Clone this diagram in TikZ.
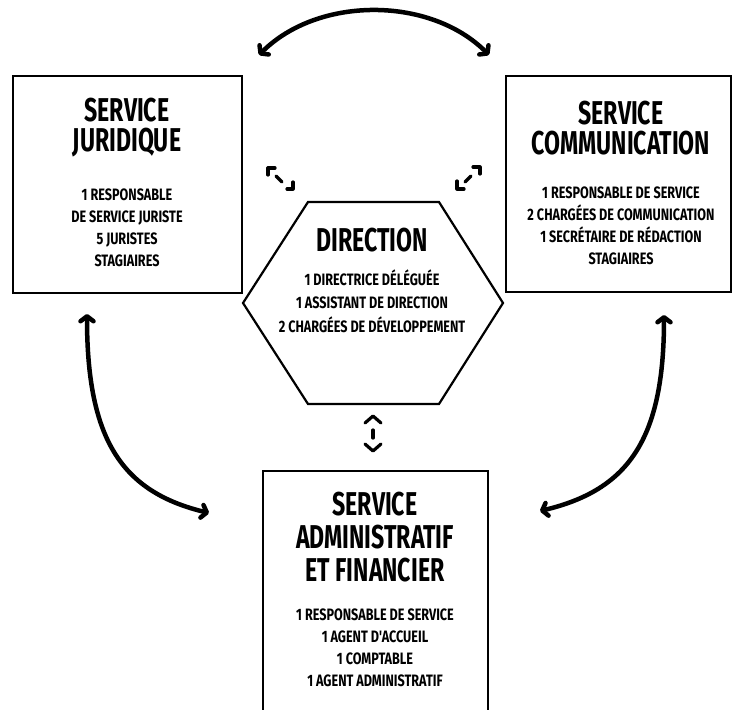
\documentclass[tikz,border=0pt]{standalone}
\usepackage{fontspec}
\setmainfont{Fira Sans}
\newfontfamily\titlefont{Fira Sans}[FakeStretch=0.70]
\newfontfamily\bodyfont{Fira Sans}[FakeStretch=0.765]
\usetikzlibrary{arrows.meta}
\begin{document}
\begin{tikzpicture}[x=1pt,y=-1pt,
  box/.style={draw, line width=2.3pt, inner sep=0pt},
  hexline/.style={line width=2.2pt, line join=miter},
  ttl/.style={font=\titlefont\bfseries\fontsize{33}{30}\selectfont, align=center, inner sep=0pt},
  bdy/.style={font=\bodyfont\bfseries\fontsize{16.5}{22}\selectfont, align=center, inner sep=0pt},
  barb/.tip={Straight Barb[length=5pt,width=13pt,line cap=round,line join=round]},
  bigarrow/.style={line width=4.5pt, line cap=round, barb-barb},
  icon/.style={line width=3.2pt, line cap=round, line join=round}]
\clip (0,0) rectangle (733,709);
\useasboundingbox (0,0) rectangle (733,709);
% boxes
\node[box, minimum width=229pt, minimum height=217pt] (jur) at (127.5,184.5) {};
\node[box, minimum width=225pt, minimum height=216pt] (com) at (618.5,184) {};
\node[box, minimum width=225pt, minimum height=259pt] (adm) at (375.5,600.5) {};
% hexagon
\coordinate (h1) at (308,202);
\coordinate (h2) at (439,202);
\coordinate (h3) at (503,303);
\coordinate (h4) at (439,404);
\coordinate (h5) at (308,404);
\coordinate (h6) at (243,303);
\draw[hexline] (h1)--(h2)--(h3)--(h4)--(h5)--(h6)--cycle;
\node[inner sep=0pt] (dir) at (373,303) {};
% texts
\node[ttl] (jurT) at (127,128) {SERVICE\\JURIDIQUE};
\node[bdy] (jurB) at (127,228) {1 RESPONSABLE\\DE SERVICE JURISTE\\5 JURISTES\\STAGIAIRES};
\node[ttl] (comT) at (621,128) {SERVICE\\COMMUNICATION};
\node[bdy] (comB) at (621,226) {1 RESPONSABLE DE SERVICE\\2 CHARG\'EES DE COMMUNICATION\\1 SECR\'ETAIRE DE R\'EDACTION\\STAGIAIRES};
\node[ttl] (dirT) at (372,240) {DIRECTION};
\node[bdy, font=\bodyfont\bfseries\fontsize{16.5}{23.5}\selectfont] (dirB) at (372,301) {1 DIRECTRICE D\'EL\'EGU\'EE\\1 ASSISTANT DE DIRECTION\\2 CHARG\'EES DE D\'EVELOPPEMENT};
\node[ttl, font=\titlefont\bfseries\fontsize{33}{33}\selectfont] (admT) at (375,537) {SERVICE\\ADMINISTRATIF\\ET FINANCIER};
\node[bdy] (admB) at (375,648) {1 RESPONSABLE DE SERVICE\\1 AGENT D'ACCUEIL\\1 COMPTABLE\\1 AGENT ADMINISTRATIF};
% big arrows
\coordinate (ta1) at (259,55);
\coordinate (ta2) at (489,55);
\coordinate (la1) at (87,314);
\coordinate (la2) at (209,513);
\coordinate (ra1) at (664,315);
\coordinate (ra2) at (540,511);
\draw[bigarrow] (ta1) .. controls (318,-4) and (430,-4) .. (ta2);
\draw[bigarrow] (la1) .. controls (87,440) and (122,492) .. (la2);
\draw[bigarrow] (ra1) .. controls (664,440) and (628,490) .. (ra2);
% small icons
\draw[icon] (268,175)--(268,168)--(275,168);
\draw[icon] (276,176)--(282,182);
\draw[icon] (287,189)--(293,189)--(293,182);
\draw[icon] (457,181)--(457,189)--(464,189);
\draw[icon] (465,182)--(471,176);
\draw[icon] (473,167)--(480,167)--(480,174);
\draw[icon] (365,423)--(373,416)--(381,423);
\draw[icon] (373,430)--(373,438);
\draw[icon] (365,444)--(373,451)--(381,444);
\end{tikzpicture}
\end{document}
